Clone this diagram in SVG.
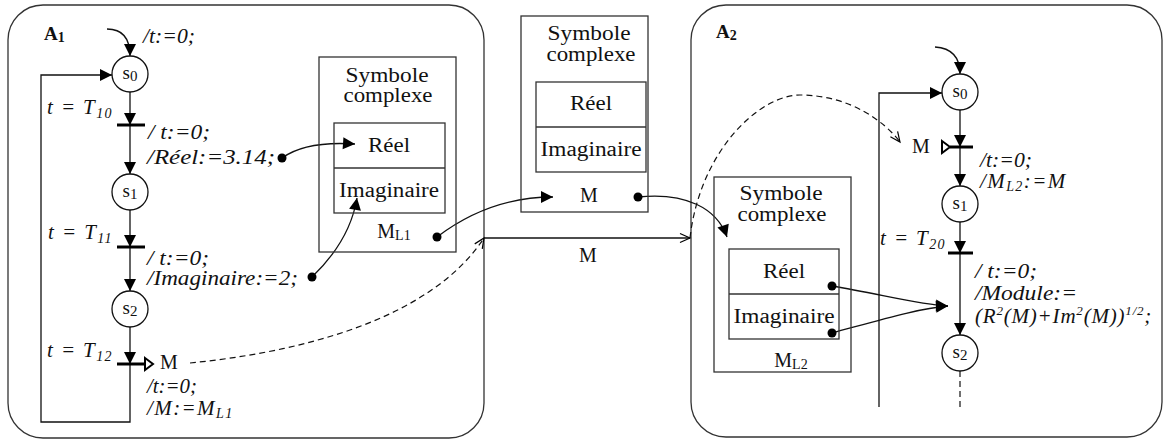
<svg xmlns="http://www.w3.org/2000/svg" width="1164" height="439" viewBox="0 0 1164 439" font-family="'Liberation Serif', 'Times New Roman', Times, serif">
<defs>
<style>
.ln{fill:none;stroke:#111;stroke-width:1.3}
.dash{fill:none;stroke:#111;stroke-width:1.2;stroke-dasharray:6 4}
.box{fill:none;stroke:#333;stroke-width:1.3}
.cont{fill:none;stroke:#333;stroke-width:1.3}
.bar{stroke:#000;stroke-width:3}
.tri{fill:#fff;stroke:#000;stroke-width:2}
.st{fill:#fff;stroke:#111;stroke-width:1.3}
.dot{fill:#000}
text{font-family:'Liberation Serif', 'Times New Roman', Times, serif;fill:#111}
.u{font-size:20px}
.it{font-size:21px;font-style:italic}
.c{text-anchor:middle}
.e{text-anchor:end}
.b{font-weight:bold;font-size:19px}
.s{font-size:19px;text-anchor:middle}
.ls{letter-spacing:1.4px}
</style>
<marker id="fa" markerUnits="userSpaceOnUse" markerWidth="13" markerHeight="12" refX="12" refY="6" orient="auto" overflow="visible"><path d="M0,0 L12,6 L0,12 z" fill="#000"/></marker>
<marker id="oa" markerUnits="userSpaceOnUse" markerWidth="12" markerHeight="10" refX="10" refY="4.5" orient="auto" overflow="visible"><path d="M0,0 L10,4.5 L0,9" fill="none" stroke="#000" stroke-width="1.2"/></marker>
</defs>

<g id="A1">
<rect class="cont" x="8" y="5" width="476" height="433" rx="35"/>
<text x="44" y="40" class="b">A<tspan font-size="14" dy="2">1</tspan></text>
</g>
<g id="A2">
<rect class="cont" x="691" y="5" width="471" height="432" rx="35"/>
<text x="716" y="38" class="b">A<tspan font-size="14" dy="2">2</tspan></text>
</g>

<g id="connectors">
<path class="ln" d="M107,29 C122,29 130,38 130,56" marker-end="url(#fa)"/>
<line class="ln" x1="130" y1="92" x2="130" y2="125" marker-end="url(#fa)"/>
<line class="ln" x1="130" y1="125" x2="130" y2="174" marker-end="url(#fa)"/>
<line class="ln" x1="130" y1="210" x2="130" y2="247" marker-end="url(#fa)"/>
<line class="ln" x1="130" y1="247" x2="130" y2="291" marker-end="url(#fa)"/>
<line class="ln" x1="130" y1="327" x2="130" y2="364" marker-end="url(#fa)"/>
<polyline class="ln" points="130,364 130,422 41,422 41,75 112,75" marker-end="url(#fa)"/>
<path class="ln" d="M935,47 C950,48 960,56 960,74" marker-end="url(#fa)"/>
<line class="ln" x1="960" y1="110" x2="960" y2="147" marker-end="url(#fa)"/>
<line class="ln" x1="960" y1="147" x2="960" y2="186" marker-end="url(#fa)"/>
<line class="ln" x1="960" y1="222" x2="960" y2="253" marker-end="url(#fa)"/>
<line class="ln" x1="960" y1="253" x2="960" y2="335" marker-end="url(#fa)"/>
<line class="dash" x1="960" y1="371" x2="960" y2="408"/>
<polyline class="ln" points="879,407 879,93 942,93" marker-end="url(#fa)"/>
<path class="ln" d="M282,158 C300,145 325,142 355,144" marker-end="url(#fa)"/>
<path class="ln" d="M312,277 C335,255 352,228 357,198" marker-end="url(#fa)"/>
<path class="ln" d="M437,237 C470,212 510,197 553,197" marker-end="url(#fa)"/>
<path class="ln" d="M638,197 C685,192 717,208 727,237" marker-end="url(#fa)"/>
<path class="ln" d="M832,286 C880,294 920,305 948,306" marker-end="url(#fa)"/>
<path class="ln" d="M832,333 C880,320 920,308 948,306" marker-end="url(#fa)"/>
<path class="dash" d="M190,363 C300,352 430,320 484,238" marker-end="url(#oa)"/>
<line class="ln" x1="484" y1="238" x2="690" y2="238" marker-end="url(#oa)"/>
<text class="u c" x="588" y="262">M</text>
<path class="dash" d="M690,238 C700,150 760,95 800,95 C850,95 885,122 900,142" marker-end="url(#oa)"/>
<circle class="dot" cx="282" cy="158" r="4.5"/>
<circle class="dot" cx="312" cy="277" r="4.5"/>
<circle class="dot" cx="437" cy="237" r="4.5"/>
<circle class="dot" cx="638" cy="197" r="4.5"/>
<circle class="dot" cx="832" cy="286" r="4.5"/>
<circle class="dot" cx="832" cy="333" r="4.5"/>
</g>

<g id="A1_s0"><circle class="st" cx="130" cy="74" r="18"/><text class="s" x="130" y="79">s<tspan font-size="15" dy="2">0</tspan></text></g>
<g id="A1_s1"><circle class="st" cx="130" cy="192" r="18"/><text class="s" x="130" y="197">s<tspan font-size="15" dy="2">1</tspan></text></g>
<g id="A1_s2"><circle class="st" cx="130" cy="309" r="18"/><text class="s" x="130" y="314">s<tspan font-size="15" dy="2">2</tspan></text></g>

<g id="A1_init_label"><text class="it" x="143" y="43" textLength="52" lengthAdjust="spacingAndGlyphs">/t:=0;</text></g>
<g id="A1_t1">
<line class="bar" x1="117" y1="125" x2="145" y2="125"/>
<text class="it e ls" x="113" y="114">t = T<tspan font-size="14" dy="4">10</tspan></text>
<text class="it" x="148" y="139" textLength="62" lengthAdjust="spacingAndGlyphs">/ t:=0;</text>
<text class="it" x="147" y="164" textLength="128" lengthAdjust="spacingAndGlyphs">/Réel:=3.14;</text>
</g>
<g id="A1_t2">
<line class="bar" x1="117" y1="247" x2="145" y2="247"/>
<text class="it e ls" x="113" y="239">t = T<tspan font-size="14" dy="4">11</tspan></text>
<text class="it" x="147" y="265" textLength="62" lengthAdjust="spacingAndGlyphs">/ t:=0;</text>
<text class="it" x="147" y="285" textLength="151" lengthAdjust="spacingAndGlyphs">/Imaginaire:=2;</text>
</g>
<g id="A1_t3">
<line class="bar" x1="117" y1="364" x2="145" y2="364"/>
<polygon class="tri" points="145,358 153,364 145,370"/>
<text class="it e ls" x="113" y="357">t = T<tspan font-size="14" dy="4">12</tspan></text>
<text class="u" x="160" y="369">M</text>
<text class="it" x="147" y="393" textLength="50" lengthAdjust="spacingAndGlyphs">/t:=0;</text>
<text class="it ls" x="147" y="415">/M:=M<tspan font-size="14" dy="3">L1</tspan></text>
</g>

<g id="ML1">
<rect class="box" x="319" y="57" width="137" height="195"/>
<rect class="box" x="334" y="123" width="111" height="90"/>
<line class="box" x1="334" y1="168" x2="445" y2="168"/>
<text class="u c" x="387" y="82" textLength="83" lengthAdjust="spacingAndGlyphs">Symbole</text>
<text class="u c" x="388" y="102" textLength="89" lengthAdjust="spacingAndGlyphs">complexe</text>
<text class="u c" x="389" y="152" textLength="42" lengthAdjust="spacingAndGlyphs">Réel</text>
<text class="u c" x="389" y="197" textLength="100" lengthAdjust="spacingAndGlyphs">Imaginaire</text>
<text class="u c" x="394" y="238">M<tspan font-size="14" dy="2">L1</tspan></text>
</g>

<g id="M_middle">
<rect class="box" x="521" y="16" width="127" height="196"/>
<rect class="box" x="536" y="82" width="110" height="90"/>
<line class="box" x1="536" y1="127" x2="646" y2="127"/>
<text class="u c" x="589" y="40" textLength="83" lengthAdjust="spacingAndGlyphs">Symbole</text>
<text class="u c" x="591" y="61" textLength="89" lengthAdjust="spacingAndGlyphs">complexe</text>
<text class="u c" x="591" y="110" textLength="42" lengthAdjust="spacingAndGlyphs">Réel</text>
<text class="u c" x="591" y="156" textLength="101" lengthAdjust="spacingAndGlyphs">Imaginaire</text>
<text class="u c" x="589" y="202">M</text>
</g>

<g id="ML2">
<rect class="box" x="714" y="177" width="137" height="195"/>
<rect class="box" x="729" y="249" width="110" height="90"/>
<line class="box" x1="729" y1="294" x2="839" y2="294"/>
<text class="u c" x="781" y="200" textLength="83" lengthAdjust="spacingAndGlyphs">Symbole</text>
<text class="u c" x="782" y="221" textLength="89" lengthAdjust="spacingAndGlyphs">complexe</text>
<text class="u c" x="784" y="278" textLength="42" lengthAdjust="spacingAndGlyphs">Réel</text>
<text class="u c" x="784" y="323" textLength="101" lengthAdjust="spacingAndGlyphs">Imaginaire</text>
<text class="u c" x="791" y="367">M<tspan font-size="14" dy="2">L2</tspan></text>
</g>

<g id="A2_s0"><circle class="st" cx="960" cy="92" r="18"/><text class="s" x="960" y="97">s<tspan font-size="15" dy="2">0</tspan></text></g>
<g id="A2_s1"><circle class="st" cx="960" cy="204" r="18"/><text class="s" x="960" y="209">s<tspan font-size="15" dy="2">1</tspan></text></g>
<g id="A2_s2"><circle class="st" cx="960" cy="353" r="18"/><text class="s" x="960" y="358">s<tspan font-size="15" dy="2">2</tspan></text></g>

<g id="A2_t1">
<line class="bar" x1="950" y1="147" x2="973" y2="147"/>
<polygon class="tri" points="942,141 950,147 942,153"/>
<text class="u" x="912" y="153">M</text>
<text class="it" x="980" y="167" textLength="52" lengthAdjust="spacingAndGlyphs">/t:=0;</text>
<text class="it ls" x="980" y="188">/M<tspan font-size="14" dy="3">L2</tspan><tspan dy="-3">:=M</tspan></text>
</g>
<g id="A2_t2">
<line class="bar" x1="948" y1="253" x2="973" y2="253"/>
<text class="it e ls" x="946" y="245">t = T<tspan font-size="14" dy="4">20</tspan></text>
<text class="it" x="975" y="278" textLength="62" lengthAdjust="spacingAndGlyphs">/ t:=0;</text>
<text class="it" x="975" y="300" textLength="102" lengthAdjust="spacingAndGlyphs">/Module:=</text>
<text class="it" x="975" y="323" letter-spacing="0.8">(R<tspan font-size="13" dy="-8">2</tspan><tspan dy="8">(M)+Im</tspan><tspan font-size="13" dy="-8">2</tspan><tspan dy="8">(M))</tspan><tspan font-size="13" dy="-8">1/2</tspan><tspan dy="8">;</tspan></text>
</g>
</svg>
